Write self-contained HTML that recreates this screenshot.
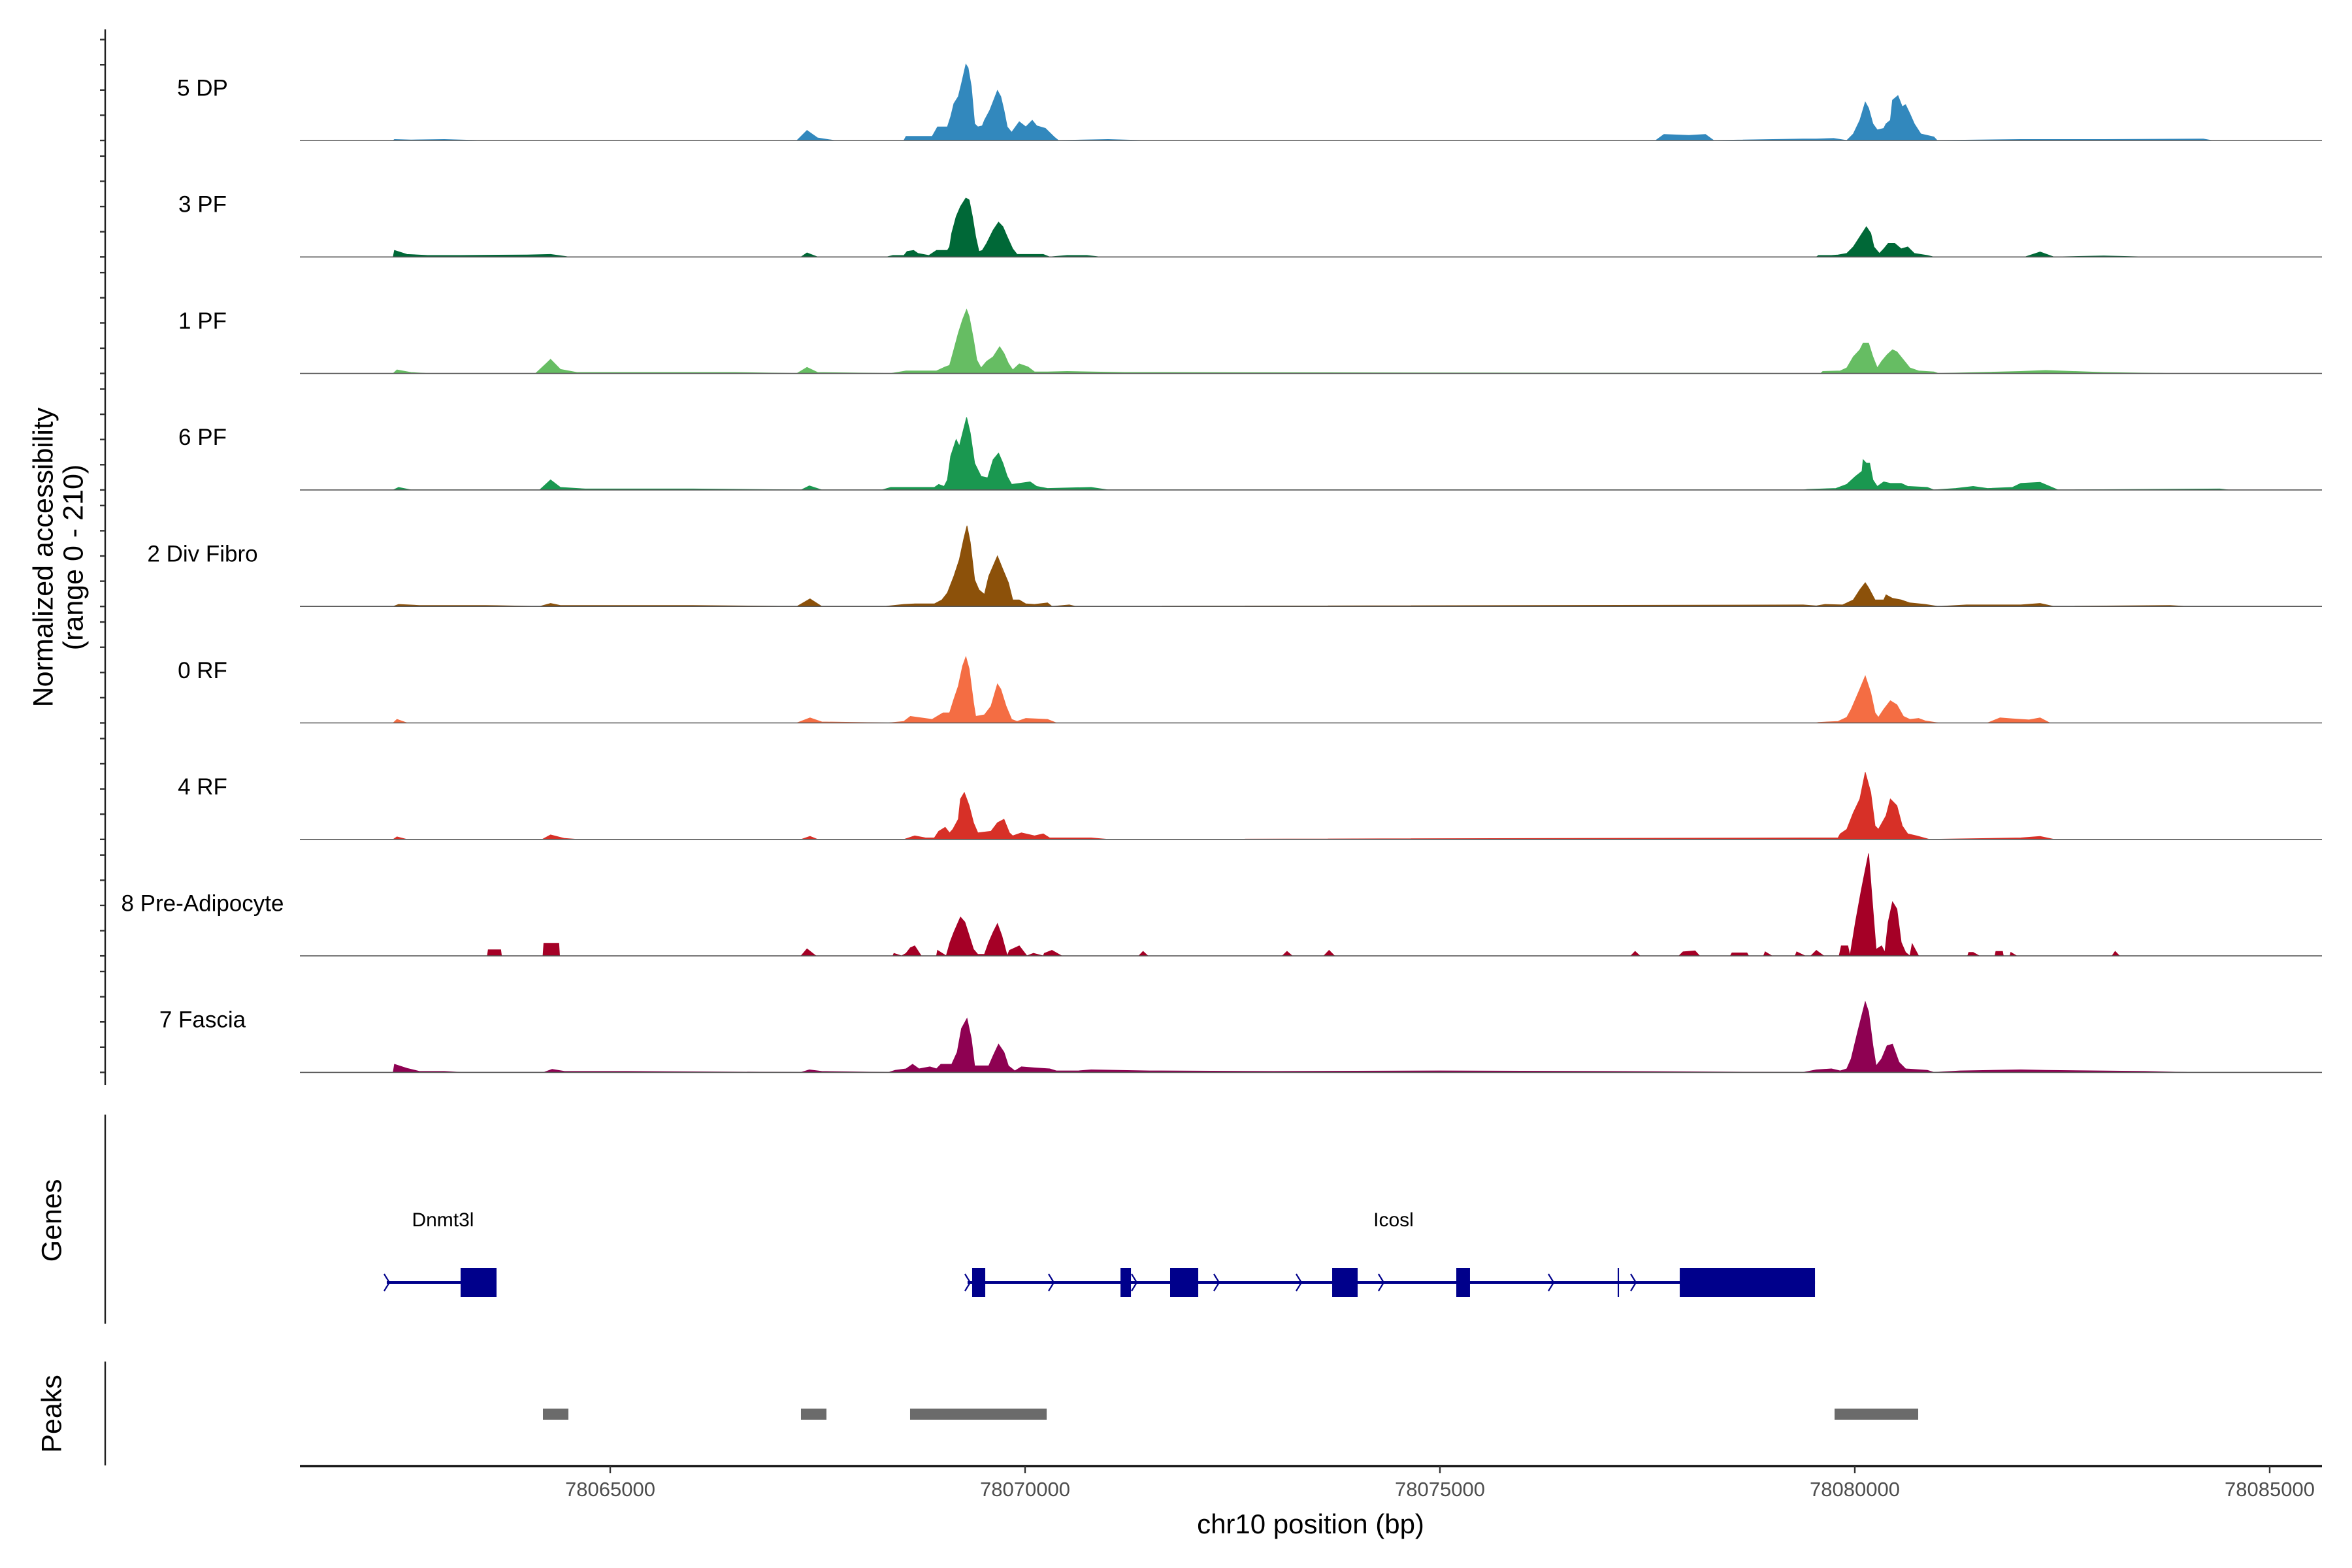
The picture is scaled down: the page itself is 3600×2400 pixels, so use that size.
<!DOCTYPE html>
<html><head><meta charset="utf-8"><style>
html,body{margin:0;padding:0;background:#fff;}
svg{display:block;font-family:"Liberation Sans",Arial,sans-serif;}
</style></head><body>
<svg id="chart" width="3600" height="2400" viewBox="0 0 3600 2400" xmlns="http://www.w3.org/2000/svg">
<g id="tracks"></g>
<g id="genes"></g>
<g id="peaks"></g>
<g id="xaxis"></g>
<text transform="translate(69,853) rotate(-90)" text-anchor="middle" dominant-baseline="middle" font-size="43" fill="#000">Normalized accessibility</text>
<text transform="translate(115,853) rotate(-90)" text-anchor="middle" dominant-baseline="middle" font-size="43" fill="#000">(range 0 - 210)</text>
<text transform="translate(82,1868) rotate(-90)" text-anchor="middle" dominant-baseline="middle" font-size="43" fill="#000">Genes</text>
<text transform="translate(82,2164) rotate(-90)" text-anchor="middle" dominant-baseline="middle" font-size="43" fill="#000">Peaks</text>
<text x="2006" y="2336" text-anchor="middle" dominant-baseline="middle" font-size="42" fill="#000">chr10 position (bp)</text>
</svg>
<script>
const NS="http://www.w3.org/2000/svg";
const trackNames=["5 DP","3 PF","1 PF","6 PF","2 Div Fibro","0 RF","4 RF","8 Pre-Adipocyte","7 Fascia"];
const trackColors=["#3288bd","#006837","#66bd63","#1a9850","#8c510a","#f46d43","#d73027","#a50026","#8e0152"];
const xTicks=[78065000,78070000,78075000,78080000,78085000];
const yTicks=[0,50,100,150,200];
const peakStarts=[78064189,78067299,78068614,78079756];
const peakEnds=[78064496,78067606,78070260,78080764];
const geneNames=["Dnmt3l","Icosl"];
const geneLabelPos=[78062984,78074441];
const geneStarts=[78062307,78069307];
const geneEnds=[78063630,78079520];
const exonStarts=[78063197,78069362,78071150,78071748,78073701,78075197,78077890];
const exonEnds=[78063630,78069520,78071276,78072087,78074008,78075362,78079520];
const thinMarks=[78077150];
const arrowPos=[78062307,78069307,78070315,78071315,78072307,78073299,78074291,78076339,78077331];

// coverage vertices per track: [bp, value]
const cov0=[[78062384,0],[78062400,2],[78062600,1],[78063000,2],[78063400,0],[78067250,0],[78067372,20],[78067500,5],[78067700,0],
[78068539,0],[78068565,8],[78068644,8],[78068880,8],[78068945,27],[78069064,27],[78069103,47],[78069142,73],[78069195,87],[78069234,113],[78069287,151],[78069313,144],[78069352,107],[78069392,33],[78069431,27],[78069484,29],[78069510,40],[78069575,60],[78069667,99],[78069707,87],[78069746,60],[78069785,27],[78069838,16],[78069930,37],[78070009,27],[78070087,40],[78070140,29],[78070245,24],[78070350,7],[78070402,0],
[78071000,2],[78071400,0],[78077600,0],[78077700,12],[78078000,10],[78078200,12],[78078300,0],
[78079378,3],[78079536,3],[78079746,4],[78079903,0],[78079982,13],[78080061,40],[78080126,76],[78080166,64],[78080218,33],[78080271,21],[78080349,24],[78080376,33],[78080428,40],[78080454,80],[78080520,89],[78080572,67],[78080612,71],[78080664,53],[78080717,33],[78080796,13],[78080953,7],[78080992,0],[78082000,2],[78083000,2],[78084200,3],[78084300,0]];
const cov1=[[78062384,0],[78062400,13],[78062550,5],[78062800,3],[78063200,3],[78064000,4],[78064281,5],[78064500,0],[78067300,0],[78067372,8],[78067500,0],
[78068328,0],[78068407,3],[78068539,3],[78068578,11],[78068657,13],[78068709,7],[78068840,3],[78068932,13],[78069064,13],[78069090,20],[78069116,47],[78069169,80],[78069221,100],[78069287,117],[78069326,113],[78069365,80],[78069405,40],[78069444,11],[78069484,13],[78069536,27],[78069615,53],[78069680,69],[78069733,60],[78069785,40],[78069851,16],[78069904,5],[78070114,5],[78070219,5],[78070297,0],[78070507,3],[78070744,3],[78070900,0],
[78079536,0],[78079562,3],[78079719,3],[78079798,4],[78079903,7],[78079982,20],[78080061,40],[78080139,60],[78080192,47],[78080231,20],[78080297,7],[78080349,16],[78080402,27],[78080481,27],[78080559,16],[78080638,20],[78080717,7],[78080874,3],[78080953,0],
[78082050,0],[78082233,10],[78082400,0],[78083000,2],[78083500,0]];
const cov2=[[78062384,0],[78062430,7],[78062600,2],[78062800,0],[78064100,0],[78064230,20],[78064281,28],[78064400,8],[78064600,2],[78065500,2],[78066500,2],[78067250,0],[78067372,12],[78067500,2],
[78068381,0],[78068565,5],[78068932,5],[78069037,13],[78069090,16],[78069142,47],[78069195,80],[78069247,107],[78069295,127],[78069326,113],[78069379,67],[78069418,27],[78069470,11],[78069536,24],[78069615,33],[78069694,53],[78069746,40],[78069799,20],[78069851,7],[78069930,19],[78070035,13],[78070114,3],[78070271,3],[78070507,4],[78070796,3],[78071200,2],
[78079588,0],[78079614,4],[78079824,5],[78079903,11],[78079982,33],[78080061,47],[78080100,60],[78080166,60],[78080218,33],[78080271,11],[78080323,24],[78080389,37],[78080454,47],[78080507,43],[78080586,27],[78080664,11],[78080769,5],[78080953,3],[78081006,0],[78082000,4],[78082300,6],[78083000,2],[78083800,0]];
const cov3=[[78062384,0],[78062450,5],[78062600,0],[78064150,0],[78064281,20],[78064400,5],[78064700,2],[78066000,2],[78067300,0],[78067400,8],[78067550,0],
[78068276,0],[78068381,5],[78068906,5],[78068959,11],[78069024,7],[78069064,20],[78069103,67],[78069169,100],[78069208,87],[78069247,113],[78069295,144],[78069339,113],[78069392,53],[78069470,27],[78069549,24],[78069615,60],[78069680,73],[78069733,53],[78069785,27],[78069838,11],[78069930,13],[78070061,16],[78070140,7],[78070271,3],[78070796,5],[78071000,0],
[78079378,0],[78079431,1],[78079772,3],[78079903,11],[78080008,27],[78080087,37],[78080100,60],[78080139,53],[78080179,53],[78080218,20],[78080271,7],[78080349,16],[78080428,13],[78080559,13],[78080638,7],[78080874,5],[78080953,0],[78081216,3],[78081426,7],[78081600,3],[78081900,5],[78082000,13],[78082233,15],[78082450,0],[78084400,2],[78084500,0]];
const cov4=[[78062384,0],[78062450,4],[78062700,2],[78063500,2],[78064150,0],[78064281,6],[78064400,2],[78066000,2],[78067250,0],[78067408,15],[78067550,0],
[78068302,0],[78068539,4],[78068670,5],[78068906,5],[78068998,13],[78069064,27],[78069142,60],[78069208,93],[78069260,133],[78069300,160],[78069339,127],[78069392,53],[78069444,33],[78069510,24],[78069562,60],[78069667,100],[78069733,73],[78069799,47],[78069851,13],[78069930,13],[78070009,5],[78070114,4],[78070271,7],[78070324,0],[78070533,3],[78070612,0],
[78079378,3],[78079536,1],[78079641,4],[78079851,3],[78079982,13],[78080061,33],[78080126,47],[78080166,37],[78080244,13],[78080349,13],[78080376,23],[78080454,16],[78080559,13],[78080664,7],[78080848,4],[78081006,0],[78081347,3],[78082000,3],[78082233,6],[78082400,0],[78083800,2],[78084000,0]];
const cov5=[[78062384,0],[78062430,7],[78062550,0],[78067250,0],[78067408,10],[78067550,2],
[78068355,0],[78068539,3],[78068617,13],[78068880,7],[78069011,20],[78069090,20],[78069142,47],[78069195,73],[78069247,113],[78069287,131],[78069326,107],[78069379,40],[78069405,13],[78069510,16],[78069589,33],[78069667,77],[78069707,67],[78069772,33],[78069838,7],[78069904,3],[78070009,9],[78070271,7],[78070376,0],
[78079536,0],[78079562,1],[78079798,3],[78079903,11],[78079956,27],[78080061,67],[78080126,93],[78080192,60],[78080244,20],[78080284,11],[78080349,27],[78080428,44],[78080507,36],[78080586,13],[78080664,7],[78080769,9],[78080848,4],[78081006,0],
[78081600,0],[78081750,10],[78081900,8],[78082100,6],[78082233,10],[78082350,0]];
const cov6=[[78062384,0],[78062430,5],[78062550,0],[78064180,0],[78064281,9],[78064450,2],[78064600,0],[78067300,0],[78067408,6],[78067500,0],
[78068539,0],[78068670,7],[78068801,3],[78068906,3],[78068959,16],[78069037,24],[78069090,13],[78069129,20],[78069195,40],[78069221,80],[78069268,93],[78069326,67],[78069379,33],[78069431,13],[78069589,16],[78069667,33],[78069746,40],[78069812,13],[78069851,7],[78069956,13],[78070114,7],[78070219,11],[78070297,3],[78070455,3],[78070639,3],[78070796,3],[78071000,0],
[78079378,3],[78079798,3],[78079824,11],[78079903,20],[78079982,53],[78080061,80],[78080126,133],[78080192,93],[78080244,27],[78080284,20],[78080376,47],[78080428,80],[78080507,67],[78080572,27],[78080638,11],[78080743,7],[78080901,0],[78082000,3],[78082233,6],[78082400,0]];
const cov7=[[78063520,0],[78063530,12],[78063680,12],[78063690,0],[78064190,0],[78064200,25],[78064380,25],[78064390,0],[78067300,0],[78067372,14],[78067480,0],
[78068407,0],[78068420,5],[78068512,0],[78068565,5],[78068617,16],[78068670,20],[78068749,0],[78068932,0],[78068945,11],[78069050,0],[78069095,27],[78069142,47],[78069221,77],[78069274,67],[78069313,47],[78069379,13],[78069431,3],[78069510,3],[78069562,27],[78069615,47],[78069667,64],[78069720,40],[78069785,0],[78069812,11],[78069930,20],[78070022,0],[78070101,5],[78070219,0],[78070232,5],[78070324,11],[78070441,0],
[78071370,0],[78071422,9],[78071480,0],[78073100,0],[78073157,9],[78073220,0],[78073600,0],[78073664,11],[78073730,0],[78077300,0],[78077352,9],[78077410,0],[78077880,0],[78077930,8],[78078075,10],[78078130,0],[78078500,0],[78078520,6],[78078700,6],[78078720,0],[78078900,0],[78078920,8],[78079000,0],[78079280,0],[78079300,8],[78079400,0],
[78079470,0],[78079536,11],[78079627,0],[78079811,0],[78079837,20],[78079916,20],[78079942,0],[78080008,67],[78080074,127],[78080113,160],[78080166,203],[78080218,93],[78080257,13],[78080323,20],[78080362,7],[78080402,67],[78080454,107],[78080507,93],[78080559,27],[78080612,7],[78080664,0],[78080691,24],[78080769,0],
[78081360,0],[78081373,7],[78081426,7],[78081500,0],[78081690,0],[78081700,9],[78081780,9],[78081790,0],[78081871,0],[78081880,7],[78081950,0],[78083100,0],[78083138,9],[78083190,0]];
const cov8=[[78062384,0],[78062400,16],[78062550,8],[78062700,2],[78063000,2],[78063200,0],[78064200,0],[78064300,6],[78064450,2],[78065200,2],[78067300,0],[78067400,5],[78067550,2],
[78068355,0],[78068434,4],[78068565,7],[78068644,16],[78068722,7],[78068853,11],[78068932,7],[78068985,16],[78069116,16],[78069182,40],[78069234,87],[78069300,107],[78069352,67],[78069392,13],[78069484,13],[78069562,13],[78069615,33],[78069680,56],[78069746,40],[78069799,13],[78069877,3],[78069956,11],[78070114,9],[78070297,7],[78070376,3],[78070639,3],[78070796,5],[78071500,3],[78073000,2],[78075000,3],[78077000,2],
[78079378,0],[78079536,5],[78079719,7],[78079824,3],[78079903,7],[78079956,27],[78080034,80],[78080126,140],[78080166,120],[78080218,53],[78080257,13],[78080323,27],[78080389,53],[78080454,56],[78080533,20],[78080612,7],[78080874,4],[78080953,0],[78081268,3],[78082000,5],[78082300,4],[78083500,2],[78084000,0]];
const coverage=[cov0,cov1,cov2,cov3,cov4,cov5,cov6,cov7,cov8];

const X0=78065000, XPX0=934, PXPERBP=0.127;
function xs(bp){return XPX0+(bp-X0)*PXPERBP;}
const BASE0=215, TRACKSTEP=178.3, YSCALE=0.772;
function base(i){return BASE0+i*TRACKSTEP;}
function ys(i,v){return base(i)-v*YSCALE;}
const PLOTL=459, PLOTR=3554;

function mk(tag,attrs,parent){const e=document.createElementNS(NS,tag);for(const k in attrs)e.setAttribute(k,attrs[k]);parent.appendChild(e);return e;}
const svg=document.getElementById('chart');
const gT=document.getElementById('tracks');

// left axis
const ax=mk('line',{x1:161,x2:161,y1:45,y2:1661,stroke:'#222','stroke-width':2.4},gT);



trackNames.forEach((name,i)=>{
  const g=mk('g',{},gT);
  
  
  yTicks.forEach(t=>{
    const tk=mk('line',{x1:153,x2:161,y1:ys(i,t),y2:ys(i,t),stroke:'#333','stroke-width':2.4},g);
    
    
  });
  const pts=coverage[i];
  let d='M'+xs(pts[0][0]).toFixed(1)+','+base(i).toFixed(1);
  pts.forEach(p=>{d+=' L'+xs(p[0]).toFixed(1)+','+ys(i,p[1]).toFixed(1);});
  d+=' L'+xs(pts[pts.length-1][0]).toFixed(1)+','+base(i).toFixed(1)+' Z';
  const a=mk('path',{d:d,fill:trackColors[i],stroke:trackColors[i],'stroke-width':1},g);
  
  
  const bl=mk('line',{x1:PLOTL,x2:PLOTR,y1:base(i),y2:base(i),stroke:'#555','stroke-width':1.6},g);
  
  
  const lb=mk('text',{x:310,y:base(i)-78,'text-anchor':'middle','dominant-baseline':'middle','font-size':35,fill:'#000'},g);
  lb.textContent=name;
  
  
});

// genes
const gG=document.getElementById('genes');
const ga=mk('line',{x1:161,x2:161,y1:1706,y2:2026,stroke:'#222','stroke-width':2.4},gG);


const GY=1963, NAVY='#00008b';
geneNames.forEach((n,i)=>{
  const l=mk('line',{x1:xs(geneStarts[i]),x2:xs(geneEnds[i]),y1:GY,y2:GY,stroke:NAVY,'stroke-width':4},gG);
  
  
  const t=mk('text',{x:xs(geneLabelPos[i]),y:1869,'text-anchor':'middle','dominant-baseline':'middle','font-size':30,fill:'#000'},gG);
  t.textContent=n;
  
  
});
exonStarts.forEach((s,i)=>{
  const r=mk('rect',{x:xs(s),y:1941,width:Math.max(2,xs(exonEnds[i])-xs(s)),height:44,fill:NAVY},gG);
  
  
});
thinMarks.forEach(s=>{
  const r=mk('line',{x1:xs(s),x2:xs(s),y1:1941,y2:1985,stroke:NAVY,'stroke-width':2},gG);
  
  
});
arrowPos.forEach(p=>{
  const x=xs(p);
  const c=mk('polyline',{points:(x-4)+','+(GY-13)+' '+(x+4)+','+GY+' '+(x-4)+','+(GY+13),fill:'none',stroke:NAVY,'stroke-width':2.2},gG);
  
  
});

// peaks
const gP=document.getElementById('peaks');
const pa=mk('line',{x1:161,x2:161,y1:2084,y2:2243,stroke:'#222','stroke-width':2.4},gP);


peakStarts.forEach((s,i)=>{
  const r=mk('rect',{x:xs(s),y:2156,width:xs(peakEnds[i])-xs(s),height:17,fill:'#6b6b6b'},gP);
  
  
});

// x axis
const gX=document.getElementById('xaxis');
const xl=mk('line',{x1:PLOTL,x2:PLOTR,y1:2244,y2:2244,stroke:'#111','stroke-width':3.4},gX);


xTicks.forEach(t=>{
  const x=xs(t);
  const tk=mk('line',{x1:x,x2:x,y1:2244,y2:2255,stroke:'#333','stroke-width':2.4},gX);
  
  
  const tl=mk('text',{x:x,y:2282,'text-anchor':'middle','dominant-baseline':'middle','font-size':31,fill:'#4d4d4d'},gX);
  tl.textContent=String(t);
  
  
});
</script>
</body></html>
